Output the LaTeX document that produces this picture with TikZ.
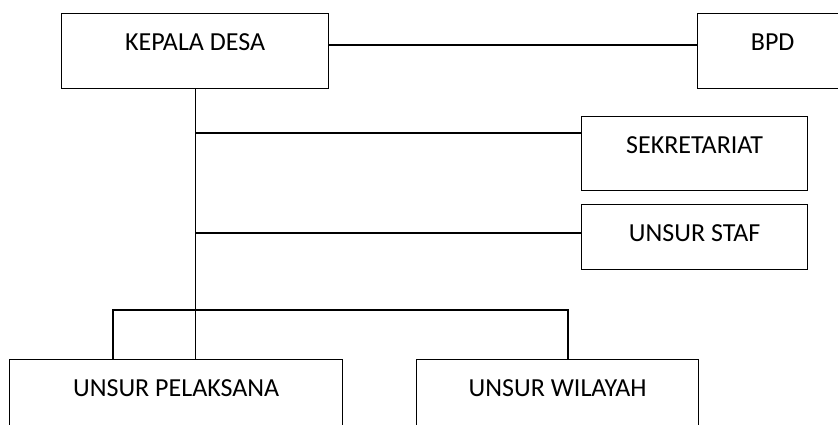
\documentclass[tikz,border=0pt]{standalone}
\usepackage{fontspec}
\setmainfont{Carlito}
\begin{document}
\begin{tikzpicture}[x=1pt,y=-1pt,
  box/.style={draw, line width=1.3pt, rectangle, inner xsep=0pt, inner ysep=0pt,
    font=\fontsize{26}{30}\selectfont, text height=37pt, anchor=north west},
  ln/.style={line width=1.3pt}]
\useasboundingbox (0,0) rectangle (838,425);
\clip (0,0) rectangle (838,425);
\node[box, minimum width=267pt, text depth=38pt] (kd) at (61,13) {KEPALA DESA};
\node[box, minimum width=150pt, text depth=38pt] (bpd) at (697,13) {BPD};
\node[box, minimum width=226pt, text depth=37pt] (sek) at (581,116) {SEKRETARIAT};
\node[box, minimum width=226pt, text depth=28pt] (staf) at (581,204) {UNSUR STAF};
\node[box, minimum width=333pt, text depth=80pt] (pel) at (9,359) {UNSUR PELAKSANA};
\node[box, minimum width=282pt, text depth=80pt] (wil) at (416,359) {UNSUR WILAYAH};
\coordinate (yb) at (0,45);
\coordinate (ys) at (0,133);
\coordinate (yt) at (0,233);
\coordinate (busL) at (113,310);
\coordinate (busR) at (568,310);
\draw[ln] (kd.east |- yb) -- (bpd.west |- yb);
\draw[ln] (kd.south) -- (kd.south |- pel.north);
\draw[ln] (kd.south |- ys) -- (sek.west |- ys);
\draw[ln] (kd.south |- yt) -- (staf.west |- yt);
\draw[ln] (busL |- pel.north) -- (busL) -- (busR) -- (busR |- wil.north);
\end{tikzpicture}
\end{document}
